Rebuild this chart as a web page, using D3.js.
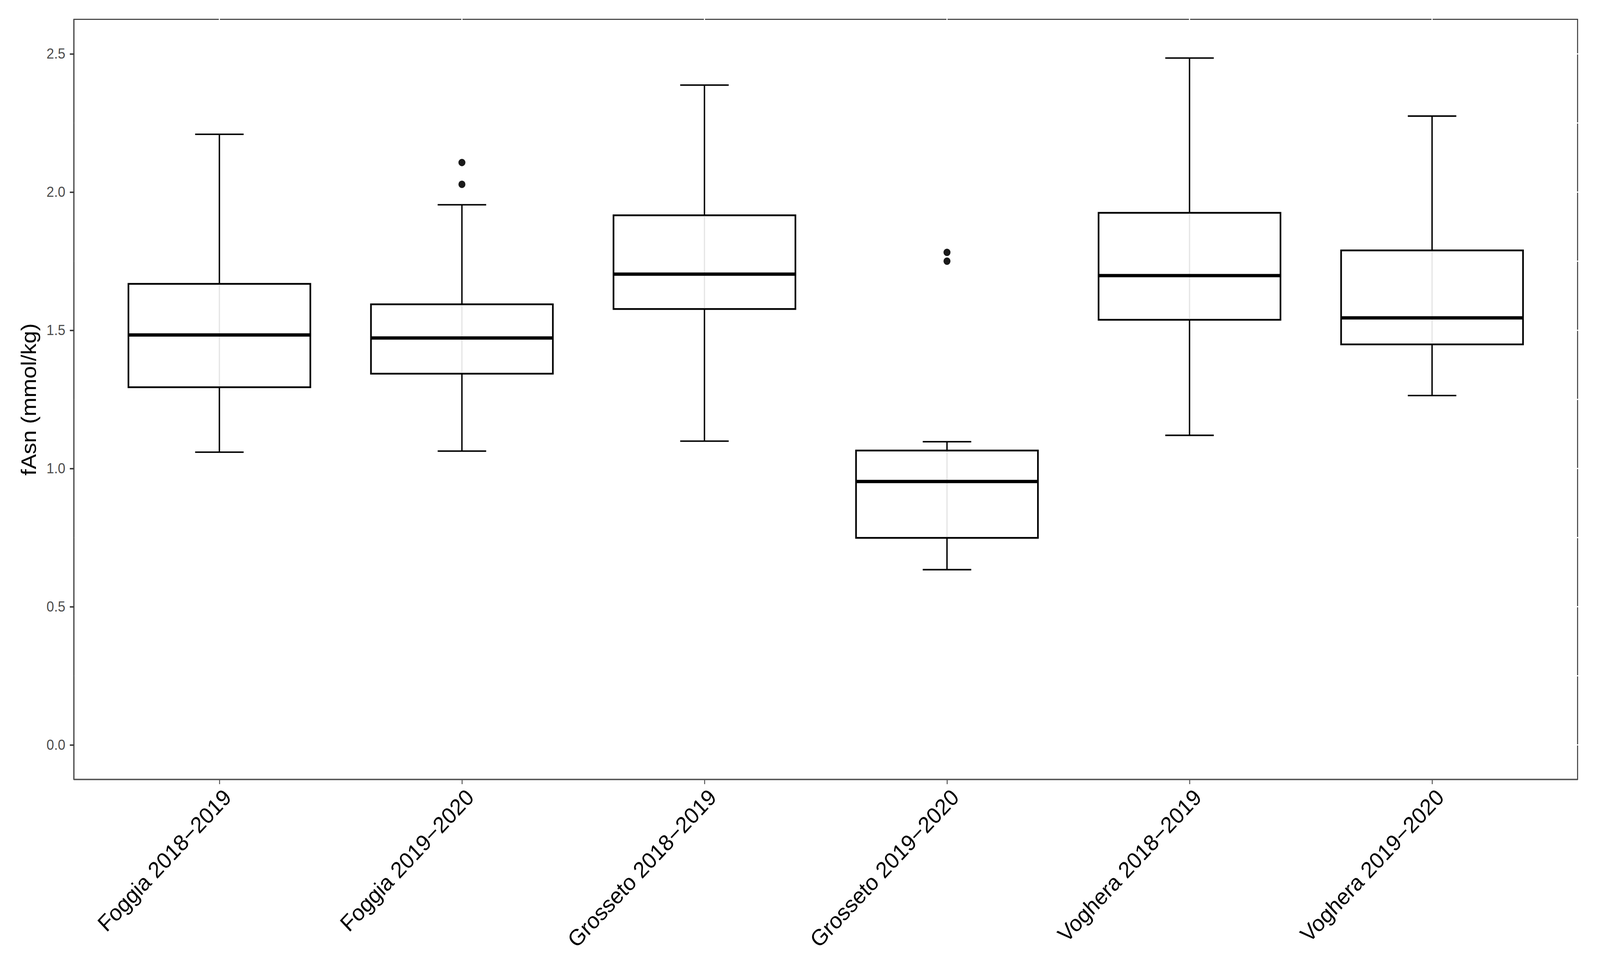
<!DOCTYPE html>
<html>
<head>
<meta charset="utf-8">
<script src="https://cdn.jsdelivr.net/npm/d3@7"></script>
<style>
  html, body { margin: 0; padding: 0; background: #ffffff; width: 100%; height: 100%; overflow: hidden; }
  svg { display: block; width: 100vw; height: 100vh; }
</style>
</head>
<body>
<svg id="chart" viewBox="0 0 4354 2466" preserveAspectRatio="none"></svg>
<script>
// ---- data ----
const categories = ["Foggia 2018\u22122019", "Foggia 2019\u22122020", "Grosseto 2018\u22122019",
                    "Grosseto 2019\u22122020", "Voghera 2018\u22122019", "Voghera 2019\u22122020"];
const whiskerLow  = [1.059, 1.063, 1.099, 0.634, 1.120, 1.264];
const q1          = [1.294, 1.343, 1.577, 0.749, 1.538, 1.449];
const median      = [1.483, 1.472, 1.703, 0.953, 1.698, 1.545];
const q3          = [1.668, 1.594, 1.916, 1.065, 1.925, 1.789];
const whiskerHigh = [2.209, 1.954, 2.387, 1.097, 2.485, 2.275];
const outliers    = [[], [2.107, 2.028], [], [1.782, 1.750], [], []];
const yTicks      = [0.0, 0.5, 1.0, 1.5, 2.0, 2.5];
const yMinorTicks = [0.25, 0.75, 1.25, 1.75, 2.25];
const yLabel      = "fAsn (mmol/kg)";

// ---- layout ----
const panel = { left: 201, right: 4293, top: 49.5, bottom: 1996 };
const svg = d3.select("#chart");

const x = d3.scalePoint().domain(categories).range([panel.left, panel.right]).padding(0.6);
const y = d3.scaleLinear().domain([-0.125, 2.625]).range([panel.bottom, panel.top]);
const step = x.step();
const boxW = 0.75 * step;
const capW = 0.2 * step;

const rows = categories.map((c, i) => ({
  cat: c, lo: whiskerLow[i], q1: q1[i], med: median[i], q3: q3[i], hi: whiskerHigh[i], out: outliers[i]
}));

// background
svg.append("rect").attr("x", 0).attr("y", 0).attr("width", 4354).attr("height", 2466).attr("fill", "#ffffff");

const g = svg.append("g");

// whiskers (errorbar style)
rows.forEach(d => {
  const cx = x(d.cat);
  g.append("line").attr("x1", cx).attr("x2", cx).attr("y1", y(d.hi)).attr("y2", y(d.q3))
    .attr("stroke", "#000").attr("stroke-width", 3.8);
  g.append("line").attr("x1", cx).attr("x2", cx).attr("y1", y(d.q1)).attr("y2", y(d.lo))
    .attr("stroke", "#000").attr("stroke-width", 3.8);
  [d.hi, d.lo].forEach(v => {
    g.append("line").attr("x1", cx - capW / 2).attr("x2", cx + capW / 2)
      .attr("y1", y(v)).attr("y2", y(v)).attr("stroke", "#000").attr("stroke-width", 3.8);
  });
});

// boxes
g.selectAll("rect.box").data(rows).join("rect").attr("class", "box")
  .attr("x", d => x(d.cat) - boxW / 2).attr("width", boxW)
  .attr("y", d => y(d.q3)).attr("height", d => y(d.q1) - y(d.q3))
  .attr("fill", "#ffffff").attr("stroke", "#000").attr("stroke-width", 4.5);

// faint line through box
g.selectAll("line.through").data(rows).join("line").attr("class", "through")
  .attr("x1", d => x(d.cat)).attr("x2", d => x(d.cat))
  .attr("y1", d => y(d.q3) + 2.5).attr("y2", d => y(d.q1) - 2.5)
  .attr("stroke", "#e6e6e6").attr("stroke-width", 3.5);

// medians
g.selectAll("line.median").data(rows).join("line").attr("class", "median")
  .attr("x1", d => x(d.cat) - boxW / 2).attr("x2", d => x(d.cat) + boxW / 2)
  .attr("y1", d => y(d.med)).attr("y2", d => y(d.med))
  .attr("stroke", "#000").attr("stroke-width", 8.5);

// outliers
rows.forEach(d => {
  g.selectAll(null).data(d.out).join("circle")
    .attr("cx", x(d.cat)).attr("cy", v => y(v)).attr("r", 9.5).attr("fill", "#1a1a1a");
});

// panel border
svg.append("rect").attr("x", panel.left).attr("y", panel.top)
  .attr("width", panel.right - panel.left).attr("height", panel.bottom - panel.top)
  .attr("fill", "none").attr("stroke", "#333333").attr("stroke-width", 2.6);

// white grid marks crossing the border
const gridMarks = svg.append("g");
yMinorTicks.concat(yTicks).forEach(v => {
  gridMarks.append("line").attr("x1", panel.right - 3).attr("x2", panel.right + 3)
    .attr("y1", y(v)).attr("y2", y(v)).attr("stroke", "#ffffff").attr("stroke-width", 3);
});
yMinorTicks.forEach(v => {
  gridMarks.append("line").attr("x1", panel.left - 3).attr("x2", panel.left + 3)
    .attr("y1", y(v)).attr("y2", y(v)).attr("stroke", "#ffffff").attr("stroke-width", 3);
});
categories.forEach(c => {
  gridMarks.append("line").attr("x1", x(c)).attr("x2", x(c))
    .attr("y1", panel.top - 3).attr("y2", panel.top + 3).attr("stroke", "#ffffff").attr("stroke-width", 3);
});

// y axis
const yAxis = svg.append("g").attr("transform", `translate(${panel.left},0)`)
  .call(d3.axisLeft(y).tickValues(yTicks).tickFormat(d3.format(".1f")).tickSize(11).tickPadding(12));
yAxis.select(".domain").attr("stroke", "#555555").attr("stroke-width", 3.6)
  .attr("d", `M0,${panel.top}V${panel.bottom}`);
yAxis.selectAll(".tick line").attr("stroke", "#333333").attr("stroke-width", 3.6);
yAxis.selectAll(".tick text").attr("fill", "#4d4d4d")
  .style("font-family", "'Liberation Sans', Arial, Helvetica, sans-serif").style("font-size", "37px")
  .attr("x", -23);

// x axis
const xAxis = svg.append("g").attr("transform", `translate(0,${panel.bottom})`)
  .call(d3.axisBottom(x).tickSize(12).tickPadding(0));
xAxis.select(".domain").attr("stroke", "#555555").attr("stroke-width", 3.6)
  .attr("d", `M${panel.left},0H${panel.right}`);
xAxis.selectAll(".tick line").attr("stroke", "#555555").attr("stroke-width", 2.6);
xAxis.selectAll(".tick text")
  .attr("fill", "#000000")
  .style("font-family", "'Liberation Sans', Arial, Helvetica, sans-serif").style("font-size", "58px")
  .attr("text-anchor", "end")
  .attr("y", 0).attr("dy", "0.72em")
  .attr("transform", "translate(6,20) rotate(-45)");

// y axis title
svg.append("text")
  .attr("transform", `translate(98,${(panel.top + panel.bottom) / 2}) rotate(-90)`)
  .attr("text-anchor", "middle")
  .style("font-family", "'Liberation Sans', Arial, Helvetica, sans-serif").style("font-size", "58px")
  .attr("fill", "#000000")
  .text(yLabel);
</script>
</body>
</html>
